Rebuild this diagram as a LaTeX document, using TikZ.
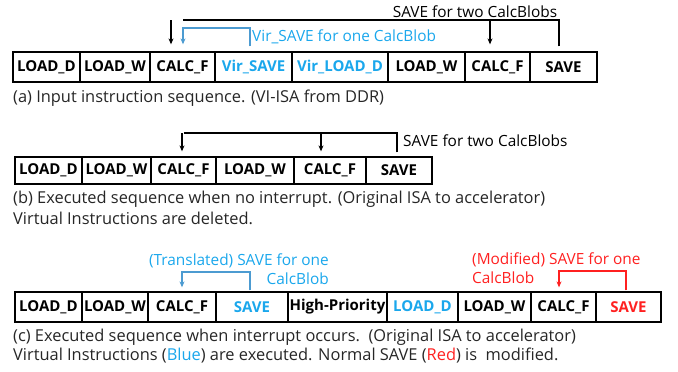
\documentclass[tikz,border=0pt]{standalone}
\usepackage{fontspec}
\setmainfont{Open Sans}
\usetikzlibrary{arrows.meta}
\definecolor{txtblue}{HTML}{1AA7EC}
\definecolor{lnblue}{HTML}{4C9BD1}
\definecolor{svred}{HTML}{FF2020}
\tikzset{
  x=1pt, y=-1pt,
  cell/.style={draw=black, line width=1.3pt, inner sep=0pt, font=\fontsize{15}{17}\selectfont\bfseries},
  caption/.style={anchor=west, inner sep=0pt, font=\fontsize{16.4}{19}\selectfont, text=black!85},
  note/.style={inner sep=0pt, font=\fontsize{15.4}{19}\selectfont},
  link/.style={line width=1.3pt, -{Stealth[length=6pt,width=5pt]}},
}
% one instruction cell: name, left x, right x, top y, bottom y, colour, text
\newcommand{\instr}[7]{%
  \node[cell, text=#6, minimum width={#3pt-#2pt}, minimum height={#5pt-#4pt}]
    (#1) at ({(#2+#3)/2},{(#4+#5)/2}) {#7};}
\begin{document}
\begin{tikzpicture}
\useasboundingbox (0,0) rectangle (678,372);

% ---------- (a) input sequence ----------
\instr{a1}{13}{80}{52}{82}{black}{LOAD\_D}
\instr{a2}{80}{150}{52}{82}{black}{LOAD\_W}
\instr{a3}{150}{215}{52}{82}{black}{CALC\_F}
\instr{a4}{215}{292}{52}{82}{txtblue}{Vir\_SAVE}
\instr{a5}{292}{388}{52}{82}{txtblue}{Vir\_LOAD\_D}
\instr{a6}{388}{465}{52}{82}{black}{LOAD\_W}
\instr{a7}{465}{530}{52}{82}{black}{CALC\_F}
\instr{a8}{530}{597}{52}{82}{black}{SAVE}

\coordinate (aTop) at (0,20);
\draw[line width=1.3pt] ([xshift=-4.5pt,yshift=5pt]a8.north) |- (aTop -| a3.north);
\draw[link] ([xshift=-11.5pt]a3.north |- aTop) -- ([xshift=-11.5pt,yshift=7pt]a3.north);
\draw[link] ([xshift=-7.5pt]a7.north |- aTop) -- ([xshift=-7.5pt,yshift=7pt]a7.north);
\node[note, anchor=south] (aLbl) at (475,18) {SAVE for two CalcBlobs};

\coordinate (aVir) at (0,28);
\draw[link, lnblue] ([xshift=-3.5pt,yshift=5pt]a4.north) |- ([xshift=0.5pt]aVir -| a3.north)
  -- ([xshift=0.5pt,yshift=7pt]a3.north);
\node[note, anchor=west, text=txtblue] (aVirLbl) at (252,37) {Vir\_SAVE for one CalcBlob};

\node[caption] (capA) at (13,98) {(a) Input instruction sequence. (VI-ISA from DDR)};

% ---------- (b) executed, no interrupt ----------
\instr{b1}{15}{82}{157}{184}{black}{LOAD\_D}
\instr{b2}{82}{151}{157}{184}{black}{LOAD\_W}
\instr{b3}{151}{216}{157}{184}{black}{CALC\_F}
\instr{b4}{216}{294}{157}{184}{black}{LOAD\_W}
\instr{b5}{294}{366}{157}{184}{black}{CALC\_F}
\instr{b6}{366}{432}{157}{184}{black}{SAVE}

\coordinate (bTop) at (0,133);
\draw[line width=1.3pt] ([xshift=-2pt,yshift=4pt]b6.north) |- (bTop -| b3.north);
\draw[link] ([xshift=-1.5pt]b3.north |- bTop) -- ([xshift=-1.5pt,yshift=5pt]b3.north);
\draw[link] ([xshift=-9pt]b5.north |- bTop) -- ([xshift=-9pt,yshift=5pt]b5.north);
\node[note, anchor=west] (bLbl) at (403,141) {SAVE for two CalcBlobs};

\node[caption] (capB1) at (13,199) {(b) Executed sequence when no interrupt. (Original ISA to accelerator)};
\node[caption] (capB2) at (13,218) {Virtual Instructions are deleted.};

% ---------- (c) executed, interrupt occurs ----------
\instr{c1}{15}{82}{292}{322}{black}{LOAD\_D}
\instr{c2}{82}{148}{292}{322}{black}{LOAD\_W}
\instr{c3}{148}{216}{292}{322}{black}{CALC\_F}
\instr{c4}{216}{288}{292}{322}{txtblue}{SAVE}
\instr{c5}{288}{387}{292}{322}{black}{High-Priority}
\instr{c6}{387}{458}{292}{322}{txtblue}{LOAD\_D}
\instr{c7}{458}{531}{292}{322}{black}{LOAD\_W}
\instr{c8}{531}{596}{292}{322}{black}{CALC\_F}
\instr{c9}{596}{661}{292}{322}{svred}{SAVE}

\coordinate (cBlue) at (0,272);
\draw[link, lnblue] ([xshift=-2pt,yshift=1pt]c4.north) |- (cBlue -| c3.north)
  -- ([yshift=4pt]c3.north);
\node[note, anchor=east, align=right, text=txtblue] (cBlueLbl) at (329,269)
  {(Translated) SAVE for one\\CalcBlob};

\coordinate (cRed) at (0,271);
\draw[link, svred] ([xshift=-2.5pt,yshift=1pt]c9.north) |- ([xshift=-4.5pt]cRed -| c8.north)
  -- ([xshift=-4.5pt,yshift=4pt]c8.north);
\node[note, anchor=west, align=left, text=svred] (cRedLbl) at (472,268)
  {(Modified) SAVE for one\\CalcBlob};

\node[caption] (capC1) at (13,337) {(c) Executed sequence when interrupt occurs.\ \ (Original ISA to accelerator)};
\node[caption] (capC2) at (13,356) {Virtual Instructions (\textcolor{txtblue}{Blue}) are executed. Normal SAVE (\textcolor{svred}{Red}) is\ \ modified.};
\end{tikzpicture}
\end{document}
